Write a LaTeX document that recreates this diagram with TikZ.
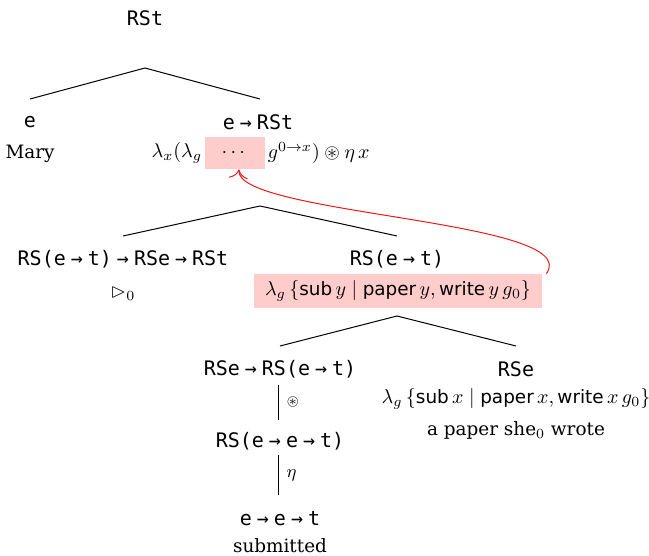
\documentclass[tikz,border=0pt]{standalone}
\usepackage{amsmath,amssymb}
\usepackage{fontspec}
\setmainfont{DejaVu Serif}[Scale=0.92]
\setsansfont{DejaVu Sans}[Scale=0.92]
\setmonofont{DejaVu Sans Mono}[Scale=1.0]
\usetikzlibrary{arrows.meta,positioning}
\definecolor{blush}{RGB}{255,204,204}
\definecolor{alert}{RGB}{235,25,25}
\newcommand\tto{\hspace{0.25em}→\hspace{0.25em}}
\newcommand\cn[1]{\text{\sffamily #1}}
\tikzset{
  ty/.style={font=\ttfamily,inner sep=1pt},
  word/.style={inner sep=1pt},
  hl box/.style={fill=blush,inner sep=0pt,minimum width=#1},
  branch/.style={line width=0.5pt},
  unary/.style={line width=0.5pt},
  loop back/.style={-{To[length=1.6mm]},draw=alert,line width=0.5pt}
}
\begin{document}
\begin{tikzpicture}[x=0.5pt,y=-0.5pt]
  \useasboundingbox (0,0) rectangle (649,556);
  % top
  \node[ty] (root) at (145,18) {RSt};
  \coordinate (a1) at (145,68);
  \coordinate (l1) at (30,99);
  \coordinate (r1) at (260,99);
  \draw[branch] (l1) -- (a1) -- (r1);
  \node[ty] (e) at (30,122) {e};
  \node[word] (mary) at (30,154) {Mary};
  \node[ty] (ert) at (258,122) {e\tto RSt};
  \node[hl box=30pt,minimum height=16pt] (dots) at (235,153) {$\cdots$};
  \node[word,anchor=east] (lamL) at (dots.west) {$\lambda_x(\lambda_g$};
  \node[word,anchor=west] (lamR) at (dots.east) {$g^{0\to x})\circledast\eta\,x$};
  % middle
  \coordinate (a2) at (260,206);
  \coordinate (l2) at (123,236);
  \coordinate (r2) at (397,236);
  \draw[branch] (l2) -- (a2) -- (r2);
  \node[ty] (fn) at (123,259) {RS(e\tto t)\tto RSe\tto RSt};
  \node[word] (rhd) at (123,294) {$\rhd_0$};
  \node[ty] (rset) at (397,259) {RS(e\tto t)};
  \node[hl box=144pt,minimum height=17pt] (hl) at (398,291)
    {$\lambda_g\,\{\cn{sub}\,y\mid\cn{paper}\,y,\cn{write}\,y\,g_0\}$};
  % bottom
  \coordinate (a3) at (397,316);
  \coordinate (l3) at (280,346);
  \coordinate (r3) at (516,346);
  \draw[branch] (l3) -- (a3) -- (r3);
  \node[ty] (rsf) at (280,369) {RSe\tto RS(e\tto t)};
  \coordinate (u1t) at (278,385);
  \coordinate (u1b) at (278,420);
  \draw[unary] (u1t) -- node[right,font=\scriptsize,inner sep=4pt] (ast) {$\circledast$} (u1b);
  \node[ty] (rsee) at (280,441) {RS(e\tto e\tto t)};
  \coordinate (u2t) at (278,455);
  \coordinate (u2b) at (278,495);
  \draw[unary] (u2t) -- node[right,font=\small,inner sep=4pt] (eta) {$\eta$} (u2b);
  \node[ty] (eet) at (280,519) {e\tto e\tto t};
  \node[word] (subm) at (280,546) {submitted};
  \node[ty] (rse) at (516,369) {RSe};
  \node[word] (lamx) at (516,399) {$\lambda_g\,\{\cn{sub}\,x\mid\cn{paper}\,x,\cn{write}\,x\,g_0\}$};
  \node[word] (paper) at (516,430) {a paper she$_0$ wrote};
  % the scope arrow
  \draw[loop back] ([xshift=2pt]hl.north east) .. controls (585,220) and (235,215) .. ([xshift=2pt]dots.south);
\end{tikzpicture}
\end{document}
